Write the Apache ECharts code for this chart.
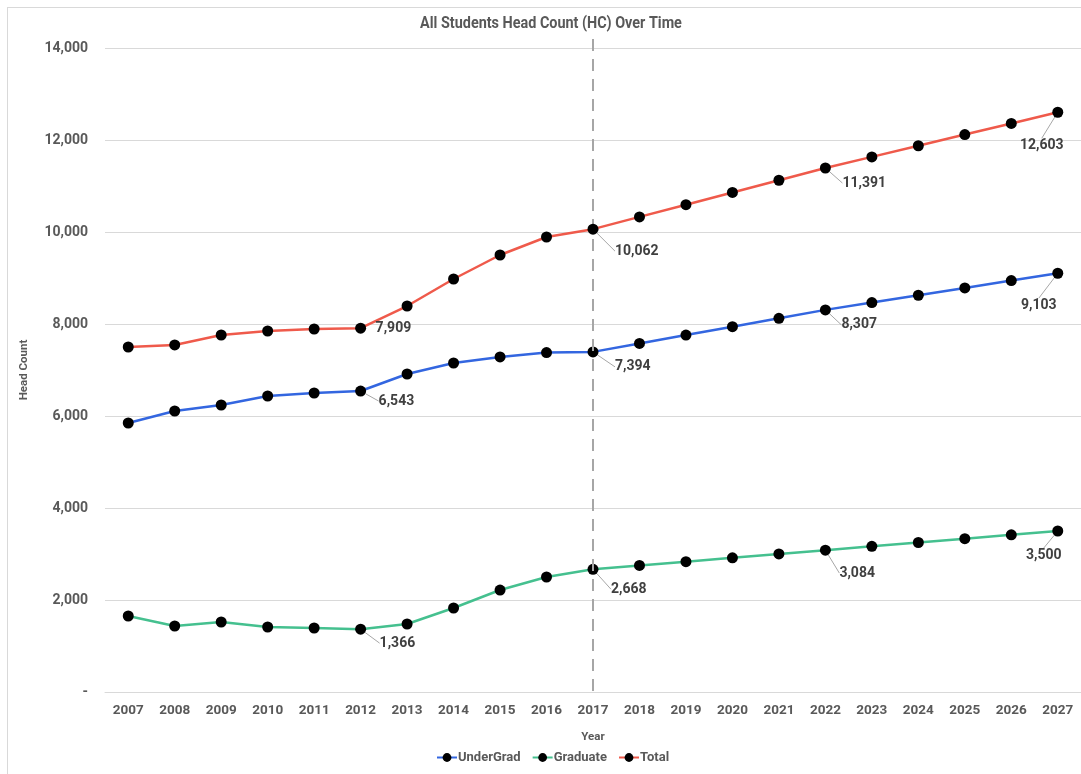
<!DOCTYPE html>
<html>
<head>
<meta charset="utf-8">
<script src="https://cdn.jsdelivr.net/npm/echarts@6/dist/echarts.min.js"></script>
<style>
  html, body { margin: 0; padding: 0; background: #fff; }
  #frame { position: absolute; left: 7px; top: 7px; width: 1200px; height: 900px;
           border-top: 1px solid #d9d9d9; border-left: 1px solid #d9d9d9; }
  #chart { position: absolute; left: 0; top: 0; width: 1081px; height: 774px; }
</style>
</head>
<body>
<div id="frame"></div>
<div id="chart"></div>
<script>
// Academic years on the category axis
const years = ['2007','2008','2009','2010','2011','2012','2013','2014','2015','2016','2017',
               '2018','2019','2020','2021','2022','2023','2024','2025','2026','2027'];

// Head count per year
const underGrad = [5848, 6109, 6239, 6435, 6500, 6543, 6913, 7152, 7283, 7380, 7394,
                   7577, 7759, 7942, 8124, 8307, 8466, 8625, 8784, 8944, 9103];
const graduate  = [1652, 1435, 1522, 1413, 1391, 1366, 1478, 1826, 2217, 2500, 2668,
                   2751, 2834, 2918, 3001, 3084, 3167, 3250, 3334, 3417, 3500];
const total     = [7500, 7544, 7761, 7848, 7891, 7909, 8391, 8978, 9500, 9891, 10062,
                   10328, 10594, 10860, 11125, 11391, 11633, 11875, 12118, 12360, 12603];

// Years whose points carry a value label, and the year marked by the divider
const labelledYears = ['2012', '2017', '2022', '2027'];
const dividerYear = '2017';

// Y-axis ticks
const yMin = 0, yMax = 14000, yStep = 2000;

const FONT = 'Roboto, sans-serif';
const TEXT = '#595959';
const TITLE = 'All Students Head Count (HC) Over Time';

// Label offsets from each point centre [dx, dy], per series (order: UnderGrad, Graduate, Total)
const labelOffsets = [
  { '2012': [18, 10], '2017': [22, 15], '2022': [16, 15], '2027': [-19, 32] },
  { '2012': [19, 14], '2017': [18, 20], '2022': [14, 23], '2027': [-14, 24] },
  { '2012': [15, 0],  '2017': [22, 22], '2022': [17, 15], '2027': [-16, 33] }
];

function buildData(values) {
  return values.map((v, i) => {
    const item = { value: v };
    if (labelledYears.includes(years[i])) {
      item.label = { show: true };
    }
    return item;
  });
}

function makeSeries(name, values, color, idx) {
  return {
    name: name,
    type: 'line',
    data: buildData(values),
    symbol: 'circle',
    symbolSize: 11,
    clip: false,
    z: 3 + idx,
    lineStyle: { color: color, width: 2.5 },
    itemStyle: { color: '#000' },
    emphasis: { disabled: true },
    label: {
      show: false,
      formatter: p => p.value.toLocaleString('en-US'),
      fontFamily: FONT,
      fontWeight: 'bold',
      fontSize: 14,
      color: '#404040'
    },
    labelLine: {
      show: true,
      lineStyle: { color: '#a6a6a6', width: 1 }
    },
    labelLayout: function (p) {
      const off = labelOffsets[idx][years[p.dataIndex]];
      if (!off) return {};
      const cx = p.rect.x + p.rect.width / 2;
      const cy = p.rect.y + p.rect.height / 2;
      return {
        x: cx + off[0],
        y: cy + off[1],
        align: off[0] > 0 ? 'left' : 'center',
        verticalAlign: 'middle'
      };
    }
  };
}

const seriesList = [
  makeSeries('UnderGrad', underGrad, '#3366e0', 0),
  makeSeries('Graduate', graduate, '#45c08f', 1),
  makeSeries('Total', total, '#ef5a4b', 2)
];

// No guide line where the label sits right beside its point
seriesList[2].data[years.indexOf('2012')].labelLine = { show: false };

const chart = echarts.init(document.getElementById('chart'), null, { renderer: 'canvas' });
chart.setOption({
  animation: false,
  backgroundColor: 'transparent',
  graphic: [{
    // condensed chart title
    type: 'text',
    x: 551,
    y: 24,
    scaleX: 0.9,
    silent: true,
    style: {
      text: TITLE,
      textAlign: 'center',
      textVerticalAlign: 'middle',
      font: 'bold 16px Roboto, sans-serif',
      fill: TEXT
    }
  }],
  legend: {
    bottom: 5,
    left: 431,
    itemWidth: 20,
    itemHeight: 11,
    itemGap: 11,
    selectedMode: false,
    textStyle: { fontFamily: FONT, fontWeight: 'bold', fontSize: 13, color: TEXT, padding: [0, 0, 0, -4] },
    data: ['UnderGrad', 'Graduate', 'Total']
  },
  grid: { left: 105, top: 48, width: 981, height: 644, containLabel: false },
  xAxis: {
    type: 'category',
    data: years,
    boundaryGap: true,
    name: 'Year',
    nameLocation: 'middle',
    nameGap: 39,
    nameTextStyle: { fontFamily: FONT, fontWeight: 'bold', fontSize: 11.5, color: TEXT },
    axisLine: { lineStyle: { color: '#d9d9d9', width: 1 } },
    axisTick: { show: false },
    axisLabel: { margin: 12, fontFamily: FONT, fontWeight: 'bold', fontSize: 13.5, color: TEXT }
  },
  yAxis: {
    type: 'value',
    min: yMin,
    max: yMax,
    interval: yStep,
    name: 'Head Count',
    nameLocation: 'middle',
    nameGap: 75,
    nameTextStyle: { fontFamily: FONT, fontWeight: 'bold', fontSize: 11.5, color: TEXT },
    axisLine: { show: false },
    axisTick: { show: false },
    splitLine: { lineStyle: { color: '#d9d9d9', width: 1 } },
    axisLabel: {
      margin: 17,
      fontFamily: FONT,
      fontWeight: 'bold',
      fontSize: 14,
      color: TEXT,
      formatter: v => v === 0 ? '-' : v.toLocaleString('en-US')
    }
  },
  series: seriesList
});

// Dashed divider at the base year, from just above the top gridline down to the x-axis
const divX = chart.convertToPixel({ xAxisIndex: 0 }, dividerYear);
const divBottom = chart.convertToPixel({ yAxisIndex: 0 }, yMin);
const divTop = chart.convertToPixel({ yAxisIndex: 0 }, yMax) - 9;
chart.setOption({
  series: [{
    markLine: {
      silent: true,
      symbol: ['none', 'none'],
      label: { show: false },
      lineStyle: { color: '#a6a6a6', width: 2, type: [12, 8] },
      data: [[{ x: divX, y: divTop }, { x: divX, y: divBottom }]]
    }
  }]
});
</script>
</body>
</html>
